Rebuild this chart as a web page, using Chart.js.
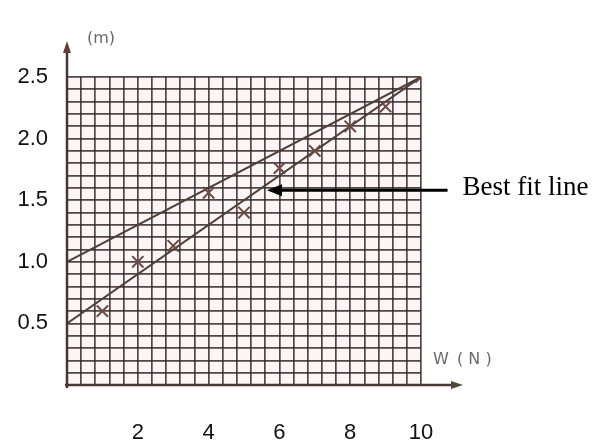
<!DOCTYPE html>
<html>
<head>
<meta charset="utf-8">
<script src="https://cdn.jsdelivr.net/npm/chart.js@4.4.1/dist/chart.umd.min.js"></script>
<style>
  html, body { margin: 0; padding: 0; background: #fff; }
  #wrap { width: 600px; height: 444px; }
</style>
</head>
<body>
<div id="wrap"><canvas id="chart"></canvas></div>
<script>
// measured points: load W (N) against extension (m)
const weights = [1, 2, 3, 4, 5, 6, 7, 8, 9, 10];
const extensions = [0.6, 1.0, 1.13, 1.56, 1.4, 1.76, 1.9, 2.1, 2.26, 2.5];

// the two straight lines drawn through the points
const lineEndsX = [0, 10];
const upperLineY = [1.0, 2.5];
const bestFitY = [0.5, 2.5];

const xTickLabels = [2, 4, 6, 8, 10];
const yTickLabels = [0.5, 1.0, 1.5, 2.0, 2.5];

const gridColor = 'rgba(50, 40, 40, 0.85)';
const inkColor = '#4f3f38';

function isLabelTick(list, v) {
  return list.some(t => Math.abs(t - v) < 1e-6);
}

// arrow for the "Best fit line" note, in data units
const noteTip = { x: 5.65, y: 1.58 };
const noteTailX = 10.75;

const paperPlugin = {
  id: 'paper',
  beforeDraw(chart) {
    const { ctx, chartArea: a } = chart;
    ctx.save();
    ctx.fillStyle = '#fcf5f6';
    ctx.fillRect(a.left, a.top, a.right - a.left, a.bottom - a.top);
    ctx.restore();
  },
  afterDraw(chart) {
    const { ctx, chartArea: a } = chart;
    const xs = chart.scales.x, ys = chart.scales.y;
    ctx.save();

    // axes with arrow heads
    ctx.strokeStyle = '#4a3532';
    ctx.lineWidth = 2.5;
    ctx.beginPath();
    ctx.moveTo(a.left, a.bottom + 3);
    ctx.lineTo(a.left, a.top - 30);
    ctx.moveTo(a.left - 2, a.bottom);
    ctx.lineTo(a.right + 36, a.bottom);
    ctx.stroke();

    ctx.fillStyle = '#6b3a3a';
    ctx.beginPath();
    ctx.moveTo(a.left, a.top - 36);
    ctx.lineTo(a.left - 4, a.top - 24);
    ctx.lineTo(a.left + 4, a.top - 24);
    ctx.closePath();
    ctx.fill();
    ctx.fillStyle = '#4a4a3a';
    ctx.beginPath();
    ctx.moveTo(a.right + 42, a.bottom);
    ctx.lineTo(a.right + 30, a.bottom - 4);
    ctx.lineTo(a.right + 30, a.bottom + 4);
    ctx.closePath();
    ctx.fill();

    // axis names
    ctx.fillStyle = '#6a6a6a';
    ctx.font = '16px "DejaVu Sans"';
    ctx.textBaseline = 'middle';
    ctx.textAlign = 'left';
    ctx.fillText('(m)', a.left + 20, a.top - 38);
    ctx.fillText('W', a.right + 12, a.bottom - 25);
    ctx.fillText('( N )', a.right + 36, a.bottom - 25);

    // "Best fit line" note
    const tx = xs.getPixelForValue(noteTip.x);
    const ty = ys.getPixelForValue(noteTip.y);
    const ex = xs.getPixelForValue(noteTailX);
    ctx.strokeStyle = '#000';
    ctx.fillStyle = '#000';
    ctx.lineWidth = 3;
    ctx.beginPath();
    ctx.moveTo(tx + 12, ty);
    ctx.lineTo(ex, ty);
    ctx.stroke();
    ctx.beginPath();
    ctx.moveTo(tx, ty);
    ctx.lineTo(tx + 15, ty - 6);
    ctx.lineTo(tx + 15, ty + 6);
    ctx.closePath();
    ctx.fill();
    ctx.font = '27px "Liberation Serif"';
    ctx.fillText('Best fit line', ex + 15, ty - 2);

    ctx.restore();
  }
};

new Chart(document.getElementById('chart'), {
  type: 'scatter',
  data: {
    datasets: [
      {
        label: 'Measurements',
        data: weights.map((w, i) => ({ x: w, y: extensions[i] })),
        pointStyle: 'crossRot',
        pointRadius: 8,
        borderColor: '#6b4a45',
        borderWidth: 2,
        showLine: false
      },
      {
        label: 'Upper line',
        data: lineEndsX.map((x, i) => ({ x: x, y: upperLineY[i] })),
        showLine: true,
        borderColor: inkColor,
        borderWidth: 2,
        pointRadius: 0
      },
      {
        label: 'Best fit line',
        data: lineEndsX.map((x, i) => ({ x: x, y: bestFitY[i] })),
        showLine: true,
        borderColor: inkColor,
        borderWidth: 2,
        pointRadius: 0
      }
    ]
  },
  options: {
    responsive: true,
    maintainAspectRatio: false,
    animation: false,
    layout: { padding: { top: 77, right: 179, left: 0, bottom: 0 } },
    plugins: {
      legend: { display: false },
      tooltip: { enabled: false }
    },
    scales: {
      x: {
        type: 'linear',
        min: 0,
        max: 10,
        afterFit: s => { s.height = 59; },
        border: { display: false },
        grid: { color: gridColor, lineWidth: 1.7, drawTicks: false },
        ticks: {
          stepSize: 0.4,
          autoSkip: false,
          maxRotation: 0,
          padding: 35,
          color: '#111',
          font: { family: '"Liberation Sans", Arial', size: 22 },
          callback: v => isLabelTick(xTickLabels, v) ? String(Math.round(v)) : ''
        }
      },
      y: {
        type: 'linear',
        min: 0,
        max: 2.5,
        afterFit: s => { s.width = 67; },
        border: { display: false },
        grid: { color: gridColor, lineWidth: 1.7, drawTicks: false },
        ticks: {
          stepSize: 0.1,
          autoSkip: false,
          padding: 19,
          color: '#111',
          font: { family: '"Liberation Sans", Arial', size: 22 },
          callback: v => isLabelTick(yTickLabels, v) ? v.toFixed(1) : ''
        }
      }
    }
  },
  plugins: [paperPlugin]
});
</script>
</body>
</html>
